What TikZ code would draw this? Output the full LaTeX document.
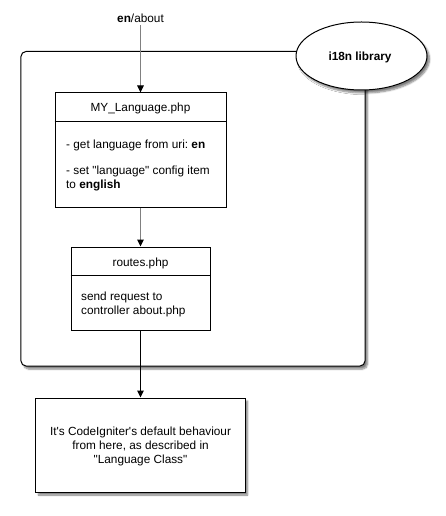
\documentclass[tikz,border=0pt]{standalone}
\usepackage{fontspec}
\newfontfamily\lsans{Liberation Sans}
\usetikzlibrary{arrows.meta,shapes.geometric,shadows.blur,calc}
\frenchspacing
\tikzset{
  every node/.style={font=\lsans\fontsize{11.8bp}{14bp}\selectfont, inner sep=0pt},
  boxnode/.style={draw=black, line width=1bp, fill=white, rectangle},
  shade3/.style={blur shadow={shadow xshift=2.5bp, shadow yshift=-3bp, shadow blur steps=6, shadow opacity=50}},
  txt/.style={anchor=base west},
  ctxt/.style={anchor=base},
  flow/.style={line width=1bp, -{Triangle[length=7bp,width=6.5bp,color=black]}},
}
\begin{document}
\begin{tikzpicture}[x=1bp,y=-1bp]
\useasboundingbox (0,0) rectangle (446,516);
% container
\node[boxnode, rounded corners=5bp, shade3, minimum width=344bp, minimum height=314.5bp] (lib) at (193,208.75) {};
% ellipse
\node[draw=black, line width=1bp, fill=white, ellipse, shade3, minimum width=131bp, minimum height=68bp] (ell) at (361.5,56) {};
\node[ctxt] (elltxt) at (360,61) {\bfseries i18n library};
% input
\node[inner sep=2.5bp] (in) at (140.5,18) {\textbf{en}/about};
% MY_Language box
\node[boxnode, minimum width=171bp, minimum height=114bp] (my) at (140.5,150) {};
\draw[line width=1bp] ($(my.north west)+(0,29.5)$) coordinate (mydl) -- ($(my.north east)+(0,29.5)$) coordinate (mydr);
\node[ctxt] (mytitle) at (140.5,112) {MY\_Language.php};
\node[txt] (myl1) at (66,149) {- get language from uri: \textbf{en}};
\node[txt] (myl2) at (66,175) {- set "language" config item};
\node[txt] (myl3) at (66,189) {to \textbf{english}};
% routes box
\node[boxnode, minimum width=139bp, minimum height=83bp] (rt) at (140.5,288.5) {};
\draw[line width=1bp] ($(rt.north west)+(0,29)$) coordinate (rtdl) -- ($(rt.north east)+(0,29)$) coordinate (rtdr);
\node[ctxt] (rttitle) at (140.5,266) {routes.php};
\node[txt] (rtl1) at (81,300) {send request to};
\node[txt] (rtl2) at (81,314) {controller about.php};
% final box
\node[boxnode, shade3, minimum width=209bp, minimum height=94bp] (fin) at (140.5,445) {};
\node[ctxt] (finl1) at (140.5,435) {It's CodeIgniter's default behaviour};
\node[ctxt] (finl2) at (140.5,449) {from here, as described in};
\node[ctxt] (finl3) at (140.5,463) {"Language Class"};
% arrows
\draw[flow, draw=black!50] (in.south) -- (my.north);
\draw[flow, draw=black!50] (my.south) -- (rt.north);
\draw[flow, draw=black] (rt.south) -- (fin.north);
\end{tikzpicture}
\end{document}
